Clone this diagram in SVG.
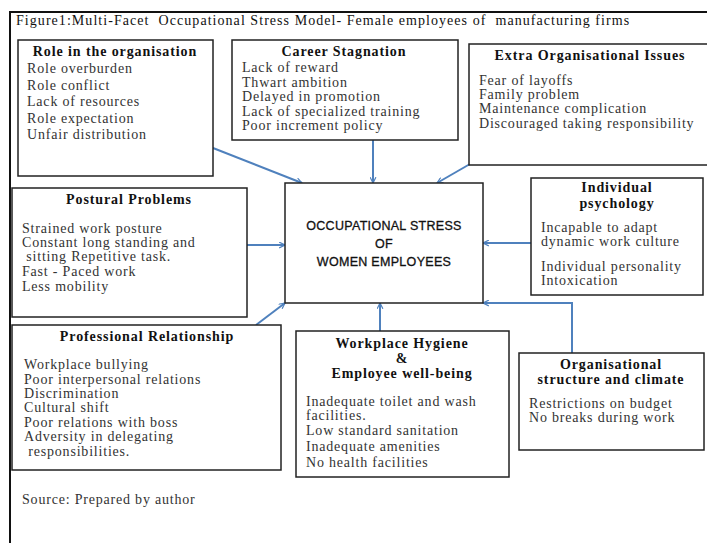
<svg xmlns="http://www.w3.org/2000/svg" width="707" height="543" viewBox="0 0 707 543">
<defs>
<style>
text{white-space:pre}
.box{fill:#fff;stroke:#222;stroke-width:1.5}
.t{font-family:"Liberation Serif","Times New Roman",serif;font-size:14px;letter-spacing:0.8px;fill:#333}
.h{font-family:"Liberation Serif","Times New Roman",serif;font-size:14px;letter-spacing:0.9px;font-weight:bold;fill:#111;text-anchor:middle}
.c{font-family:"Liberation Sans",Arial,sans-serif;font-size:12.5px;fill:#111;stroke:#111;stroke-width:0.3;text-anchor:middle;letter-spacing:0.3px}
.con{fill:none;stroke:#4f81bd;stroke-width:2;marker-end:url(#ah)}
</style>
<marker id="ah" viewBox="0 0 12 12" refX="11" refY="6" markerWidth="7" markerHeight="7" markerUnits="userSpaceOnUse" orient="auto">
<path d="M1,1 L11,6 L1,11" fill="none" stroke="#4f81bd" stroke-width="2"/>
</marker>
</defs>
<rect width="707" height="543" fill="#fff"/>
<g id="frame">
<path d="M10,543 V12 H707" fill="none" stroke="#111" stroke-width="2"/>
<text x="16" y="25" class="t" style="fill:#111;letter-spacing:1.05px">Figure1:Multi-Facet  Occupational Stress Model- Female employees of  manufacturing firms</text>
</g>
<g id="connectors">
<path class="con" d="M213,148 L302,183"/>
<path class="con" d="M373,140 V183"/>
<path class="con" d="M470,164 L437,183"/>
<path class="con" d="M247,245 H285"/>
<path class="con" d="M531,243 H483"/>
<path class="con" d="M256,325 L285,303"/>
<path class="con" d="M380,331 V303"/>
<path class="con" d="M572,353 V303 H483"/>
</g>
<g id="central">
<rect class="box" x="285" y="183" width="198" height="120"/>
<text class="c" x="384" y="230">OCCUPATIONAL STRESS</text>
<text class="c" x="384" y="248">OF</text>
<text class="c" x="384" y="266">WOMEN EMPLOYEES</text>
</g>
<g id="role">
<rect class="box" x="18" y="40" width="195" height="136"/>
<text class="h" x="115" y="56">Role in the organisation</text>
<text class="t" x="27" y="73">Role overburden</text>
<text class="t" x="27" y="90">Role conflict</text>
<text class="t" x="27" y="106">Lack of resources</text>
<text class="t" x="27" y="123">Role expectation</text>
<text class="t" x="27" y="139">Unfair distribution</text>
</g>
<g id="career">
<rect class="box" x="232" y="40" width="226" height="100"/>
<text class="h" x="344" y="56">Career Stagnation</text>
<text class="t" x="242" y="72">Lack of reward</text>
<text class="t" x="242" y="87">Thwart ambition</text>
<text class="t" x="242" y="101">Delayed in promotion</text>
<text class="t" x="242" y="116">Lack of specialized training</text>
<text class="t" x="242" y="130">Poor increment policy</text>
</g>
<g id="extra">
<rect class="box" x="469" y="44" width="250" height="121"/>
<text class="h" x="590" y="60">Extra Organisational Issues</text>
<text class="t" x="479" y="85">Fear of layoffs</text>
<text class="t" x="479" y="99">Family problem</text>
<text class="t" x="479" y="113">Maintenance complication</text>
<text class="t" x="479" y="128">Discouraged taking responsibility</text>
</g>
<g id="postural">
<rect class="box" x="12" y="188" width="235" height="129"/>
<text class="h" x="129" y="204">Postural Problems</text>
<text class="t" x="22" y="233">Strained work posture</text>
<text class="t" x="22" y="247">Constant long standing and</text>
<text class="t" x="22" y="261"> sitting Repetitive task.</text>
<text class="t" x="22" y="276">Fast - Paced work</text>
<text class="t" x="22" y="291">Less mobility</text>
</g>
<g id="individual">
<rect class="box" x="531" y="178" width="172" height="117"/>
<text class="h" x="617" y="192">Individual</text>
<text class="h" x="617" y="208">psychology</text>
<text class="t" x="541" y="232">Incapable to adapt</text>
<text class="t" x="541" y="246">dynamic work culture</text>
<text class="t" x="541" y="271">Individual personality</text>
<text class="t" x="541" y="285">Intoxication</text>
</g>
<g id="professional">
<rect class="box" x="12" y="325" width="269" height="145"/>
<text class="h" x="147" y="341">Professional Relationship</text>
<text class="t" x="24" y="369">Workplace bullying</text>
<text class="t" x="24" y="384">Poor interpersonal relations</text>
<text class="t" x="24" y="398">Discrimination</text>
<text class="t" x="24" y="412">Cultural shift</text>
<text class="t" x="24" y="427">Poor relations with boss</text>
<text class="t" x="24" y="441">Adversity in delegating</text>
<text class="t" x="24" y="456"> responsibilities.</text>
</g>
<g id="hygiene">
<rect class="box" x="296" y="331" width="213" height="146"/>
<text class="h" x="402" y="348">Workplace Hygiene</text>
<text class="h" x="402" y="363">&amp;</text>
<text class="h" x="402" y="378">Employee well-being</text>
<text class="t" x="306" y="406">Inadequate toilet and wash</text>
<text class="t" x="306" y="420">facilities.</text>
<text class="t" x="306" y="435">Low standard sanitation</text>
<text class="t" x="306" y="451">Inadequate amenities</text>
<text class="t" x="306" y="467">No health facilities</text>
</g>
<g id="organisational">
<rect class="box" x="519" y="353" width="185" height="97"/>
<text class="h" x="611" y="369">Organisational</text>
<text class="h" x="611" y="384">structure and climate</text>
<text class="t" x="529" y="408">Restrictions on budget</text>
<text class="t" x="529" y="422">No breaks during work</text>
</g>
<g id="source">
<text class="t" x="22" y="504">Source: Prepared by author</text>
</g>
</svg>
